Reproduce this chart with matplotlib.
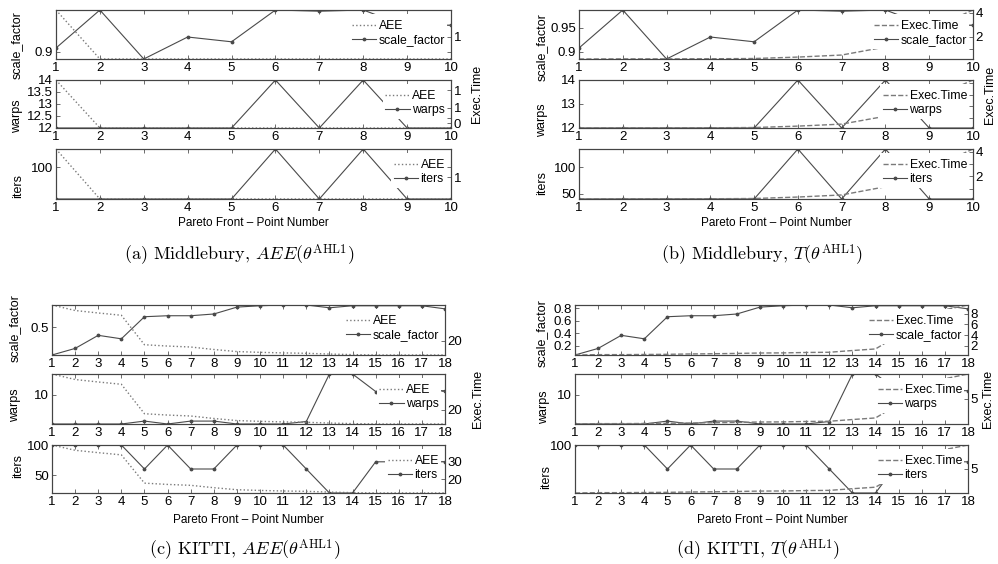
import matplotlib.pyplot as plt

plt.rcParams['font.family'] = ['Liberation Sans', 'DejaVu Sans']
plt.rcParams['mathtext.fontset'] = 'cm'

# Middlebury pareto front (10 points)
mb_points = list(range(1, 11))
mb_scale_factor = [0.908, 0.9875, 0.885, 0.931, 0.921, 0.9875, 0.985, 0.9875, 0.953, 0.956]
mb_warps = [12, 12, 12, 12, 12, 14, 12, 14, 12, 12]
mb_iters = [40, 40, 40, 40, 40, 135, 40, 135, 40, 40]
mb_aee = [1.6, 0.5, 0.5, 0.5, 0.5, 0.5, 0.5, 0.5, 0.5, 0.5]
mb_time = [0.16, 0.17, 0.17, 0.18, 0.2, 0.32, 0.49, 1.16, 2.6, 4.24]

# KITTI pareto front (18 points)
ki_points = list(range(1, 19))
ki_scale_factor = [0.05, 0.156, 0.367, 0.311, 0.667, 0.683, 0.683, 0.711, 0.822,
                   0.844, 0.856, 0.856, 0.811, 0.844, 0.844, 0.844, 0.844, 0.794]
ki_warps = [3, 3, 3, 3, 3.7, 3, 3.7, 3.7, 3, 3, 3, 3.6, 15, 15, 10.8, 11, 11, 11]
ki_iters = [100, 100, 100, 100, 60, 100, 60, 60, 100, 100, 100, 60, 20, 20, 72, 72, 72, 72]
ki_aee = [38.9, 36.0, 34.7, 33.5, 18.0, 17.3, 16.8, 15.5, 14.4, 14.0, 13.7, 13.5,
          13.1, 12.8, 12.6, 12.6, 12.6, 12.6]
ki_time = [0.2, 0.27, 0.27, 0.3, 0.33, 0.4, 0.44, 0.5, 0.58, 0.6, 0.68, 0.72,
           1.05, 1.35, 4.0, 6.5, 8.8, 9.7]

param_names = ['scale_factor', 'warps', 'iters']

# tick values / labels as printed on each sub-axis
a_left_ticks = [[0.9], [12, 12.5, 13, 13.5, 14], [100]]
a_right_ticks = [[0.66, 1.0, 1.26], [0.61, 0.72, 0.96, 1.37], [0.98, 1.2]]
a_right_labels = [['', '1', ''], ['0', '', '1', '1'], ['1', '']]
b_left_ticks = [[0.9, 0.95], [12, 13, 14], [50, 100]]
b_right_ticks = [[1, 2, 3, 4], [1, 2, 3, 4], [1, 2, 3, 4]]
b_right_labels = [['', '2', '', '4'], ['', '', '', ''], ['', '2', '', '4']]
c_left_ticks = [[0.5], [10], [50, 100]]
c_right_ticks = [[20], [20, 30], [20, 30]]
c_right_labels = [['20'], ['20', ''], ['20', '30']]
d_left_ticks = [[0.2, 0.4, 0.6, 0.8], [10], [100]]
d_right_ticks = [[2, 4, 6, 8], [5], [5]]
d_right_labels = [['2', '4', '6', '8'], ['5'], ['5']]

captions = [r'(a) Middlebury, $AEE(\theta^{\mathrm{AHL1}})$',
            r'(b) Middlebury, $T(\theta^{\mathrm{AHL1}})$',
            r'(c) KITTI, $AEE(\theta^{\mathrm{AHL1}})$',
            r'(d) KITTI, $T(\theta^{\mathrm{AHL1}})$']

W, H = 998, 564
fig = plt.figure(figsize=(W / 100, H / 100), dpi=100)

LINE = '#4a4a4a'
DASH = '#7a7a7a'


def add_px_axes(x0, x1, y0, y1):
    return fig.add_axes([x0 / W, 1 - y1 / H, (x1 - x0) / W, (y1 - y0) / H])


def panel(xr, rows, x, series, right, rname, rstyle, lticks, rticks, rlabels,
          ylab_pos, rlab_pos, xlab_pos, cap_pos, caption):
    for i, (y0, y1) in enumerate(rows):
        ax = add_px_axes(xr[0], xr[1], y0, y1)
        vals = series[i]
        ax.plot(x, vals, '-', marker='.', ms=3.5, color=LINE, lw=0.8)
        ax.set_xlim(x[0], x[-1])
        ax.set_ylim(min(vals), max(vals))
        ax.set_xticks(x)
        ax.set_yticks(lticks[i])
        ax.set_yticklabels(['%g' % t for t in lticks[i]])
        ax.tick_params(direction='in', length=3, labelsize=9.5, pad=2, top=True,
                       width=0.6, color='#555555')
        for s in ax.spines.values():
            s.set_linewidth(0.8)
            s.set_color('#444444')

        ax2 = ax.twinx()
        ax2.plot(x, right, rstyle, color=DASH, lw=1.0)
        ax2.set_ylim(min(right), max(right))
        ax2.set_yticks(rticks[i])
        ax2.set_yticklabels(rlabels[i])
        ax2.tick_params(direction='in', length=3, labelsize=9.5, pad=2,
                        width=0.6, color='#555555')
        for s in ax2.spines.values():
            s.set_linewidth(0.8)
            s.set_color('#444444')
            s.set_zorder(6)
        h1 = ax.get_lines()[0]
        h2 = ax2.get_lines()[0]
        # blank tiny title pushes the entries down a little
        leg = ax2.legend([h2, h1], [rname, param_names[i]], loc='upper right',
                         title=' ', title_fontsize=0.5,
                         fontsize=8.8, frameon=True, fancybox=False,
                         framealpha=1, facecolor='white', edgecolor='none',
                         handlelength=2.0, handletextpad=0.2, labelspacing=0.22,
                         borderpad=0.2, borderaxespad=0.3)
        leg.set_zorder(5)

        fig.text(ylab_pos[i][0] / W, 1 - ylab_pos[i][1] / H, param_names[i],
                 rotation=90, ha='center', va='center', fontsize=9)

    fig.text(rlab_pos[0] / W, 1 - rlab_pos[1] / H, 'Exec.Time', rotation=90,
             ha='center', va='center', fontsize=9)
    fig.text(xlab_pos[0] / W, 1 - xlab_pos[1] / H, 'Pareto Front – Point Number',
             ha='center', va='center', fontsize=8.5)
    fig.text(cap_pos[0] / W, 1 - cap_pos[1] / H, caption, ha='center',
             va='center', fontsize=13, family='cmr10')


top_rows = [(10, 59), (80, 128), (149, 199)]
bot_rows = [(305, 355), (374, 424), (445, 493)]

panel((56, 451), top_rows, mb_points, [mb_scale_factor, mb_warps, mb_iters],
      mb_aee, 'AEE', ':', a_left_ticks, a_right_ticks, a_right_labels,
      [(17, 45), (17, 116), (18, 186)], (477, 94), (253, 223), (239, 255), captions[0])
panel((579, 973), top_rows, mb_points, [mb_scale_factor, mb_warps, mb_iters],
      mb_time, 'Exec.Time', '--', b_left_ticks, b_right_ticks, b_right_labels,
      [(542, 47), (542, 120), (542, 183)], (990, 95), (776, 223), (762, 255), captions[1])
panel((52, 445), bot_rows, ki_points, [ki_scale_factor, ki_warps, ki_iters],
      ki_aee, 'AEE', ':', c_left_ticks, c_right_ticks, c_right_labels,
      [(15, 328), (15, 405), (18, 466)], (478, 399), (248, 520), (245, 550), captions[2])
panel((575, 968), bot_rows, ki_points, [ki_scale_factor, ki_warps, ki_iters],
      ki_time, 'Exec.Time', '--', d_left_ticks, d_right_ticks, d_right_labels,
      [(542, 333), (544, 407), (546, 477)], (988, 399), (772, 520), (758, 550), captions[3])

fig.savefig('out.png', dpi=100)
